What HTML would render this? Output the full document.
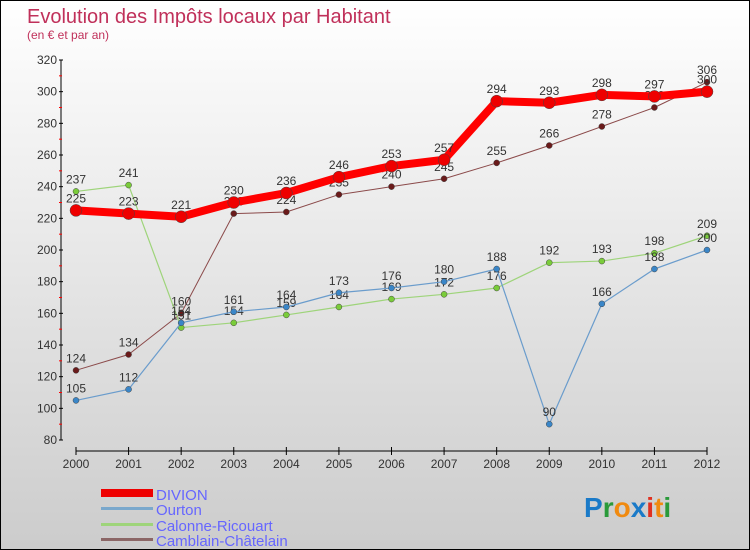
<!DOCTYPE html>
<html><head><meta charset="utf-8"><style>
body{margin:0}
#c{width:748px;height:548px;border:1px solid #000;background:linear-gradient(#fff,#ccc);position:relative;font-family:"Liberation Sans",sans-serif;overflow:hidden}
</style></head><body>
<div id="c">
<svg id="s" width="748" height="548" xmlns="http://www.w3.org/2000/svg">
<text x="26" y="22" font-size="20" fill="#c0305a">Evolution des Impôts locaux par Habitant</text>
<text x="26" y="38" font-size="12" fill="#c0305a">(en € et par an)</text>
<g id="axes"></g><g id="series"></g>
<g>
<rect x="100" y="488" width="52" height="8" fill="#e00"/>
<text x="155" y="499" font-size="15" fill="#66f">DIVION</text>
<rect x="100" y="506" width="52" height="3" fill="#7aa8cc"/>
<text x="155" y="514" font-size="15" fill="#66f">Ourton</text>
<rect x="100" y="522" width="52" height="3" fill="#9ed47a"/>
<text x="155" y="530" font-size="15" fill="#66f">Calonne-Ricouart</text>
<rect x="100" y="537" width="52" height="3" fill="#8b6666"/>
<text x="155" y="545" font-size="15" fill="#66f">Camblain-Châtelain</text>
</g>
<g font-size="28" font-weight="bold">
<text x="583" y="516"><tspan fill="#1a7ac8">P</tspan><tspan fill="#2a9a3a">r</tspan><tspan fill="#f08a10">o</tspan><tspan fill="#1a7ac8">x</tspan><tspan fill="#e03020">i</tspan><tspan fill="#f08a10">t</tspan><tspan fill="#2a9a3a">i</tspan></text>
</g>
</svg></div>
<script>
const years=[2000,2001,2002,2003,2004,2005,2006,2007,2008,2009,2010,2011,2012];
const divion=[225,223,221,230,236,246,253,257,294,293,298,297,300];
const ourton=[105,112,154,161,164,173,176,180,188,90,166,188,200];
const calonne=[237,241,151,154,159,164,169,172,176,192,193,198,209];
const camblain=[124,134,160,223,224,235,240,245,255,266,278,290,306];
const yTicks=[80,100,120,140,160,180,200,220,240,260,280,300,320];
const NS="http://www.w3.org/2000/svg";
function X(i){return 75+i*(631/12);}
function Y(v){return 439-(v-80)*(380/240);}
function mk(t,a,p){const e=document.createElementNS(NS,t);for(const k in a)e.setAttribute(k,a[k]);p.appendChild(e);return e;}
const ax=document.getElementById('axes');
let l=mk('line',{x1:60,y1:Y(320),x2:60,y2:Y(80),stroke:'#000'},ax);

yTicks.forEach((v,k)=>{
 mk('line',{x1:58,x2:62,y1:Y(v),y2:Y(v),stroke:'#000'},ax);
 if(k<yTicks.length-1) mk('line',{x1:58,x2:61,y1:Y(v+10),y2:Y(v+10),stroke:'#f00'},ax);
 const t=mk('text',{x:56,y:Y(v)+4,'text-anchor':'end','font-size':12,fill:'#333'},ax);t.textContent=v;
 
});
l=mk('line',{x1:X(0),y1:450,x2:X(12),y2:450,stroke:'#000'},ax);

years.forEach((y,i)=>{
 mk('line',{x1:X(i),x2:X(i),y1:446,y2:454,stroke:'#000'},ax);
 const t=mk('text',{x:X(i),y:467,'text-anchor':'middle','font-size':12,fill:'#333'},ax);t.textContent=y;
 
});
const sg=document.getElementById('series');
function series(d,name,col,w,r,dot){
 const g=mk('g',{},sg);
 const p=mk('polyline',{points:d.map((v,i)=>X(i)+','+Y(v)).join(' '),fill:'none',stroke:col,'stroke-width':w,'stroke-linejoin':'round'},g);
 
 d.forEach((v,i)=>{
  const c=mk('circle',{cx:X(i),cy:Y(v),r:r,fill:dot,stroke:'#444','stroke-width':0.5},g);
  
  const t=mk('text',{x:X(i),y:Y(v)-8,'text-anchor':'middle','font-size':12,fill:'#333'},g);t.textContent=v;
  
 });
}
series(camblain,'camblain','#8b4a4a',1,3,'#6a1a1a');
series(calonne,'calonne','#9ed47a',1.2,3,'#7acc3a');
series(ourton,'ourton','#6a9ccc',1.2,3,'#3a86c8');
series(divion,'divion','#f00',8,6,'#e00');
</script>
</body></html>
